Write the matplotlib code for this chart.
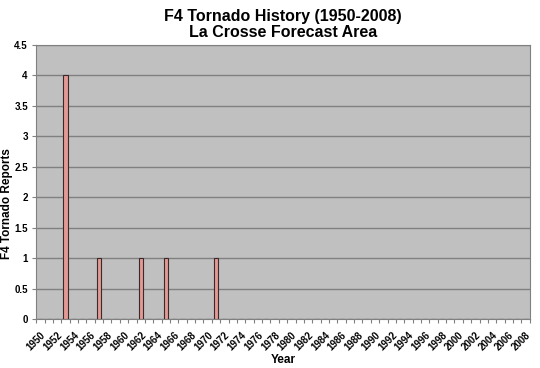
import matplotlib.pyplot as plt
import numpy as np

plt.rcParams['font.family'] = ['Liberation Sans', 'DejaVu Sans']

# F4 tornado reports per year, La Crosse forecast area
years = list(range(1950, 2009))
reports = [0] * len(years)
f4_years = [1953, 1957, 1962, 1965, 1971]
f4_counts = [4, 1, 1, 1, 1]
for y, c in zip(f4_years, f4_counts):
    reports[years.index(y)] = c

fig = plt.figure(figsize=(5.4, 3.68), dpi=100)
ax = fig.add_axes([0.067, 0.133, 0.914, 0.745])
ax.set_facecolor("#C0C0C0")

ax.bar(years, reports, width=0.5, color="#E39A94", edgecolor="#3A2A2A", linewidth=0.8, zorder=3)

ax.set_xlim(years[0] - 0.5, years[-1] + 0.5)
ax.set_ylim(0, 4.5)
ax.set_yticks(np.arange(0, 4.51, 0.5))
ax.set_yticklabels(["0", "0.5", "1", "1.5", "2", "2.5", "3", "3.5", "4", "4.5"])
ax.grid(axis="y", color="#808080", linewidth=1, zorder=1)

label_years = years[::2]
ax.set_xticks(label_years)
ax.set_xticklabels([str(y) for y in label_years], rotation=45, ha="right",
                   rotation_mode="anchor", fontsize=7, fontweight="bold")
ax.tick_params(axis="x", length=0, pad=8)
ax.set_xticks(np.arange(years[0] - 0.5, years[-1] + 1), minor=True)
ax.tick_params(axis="x", which="minor", length=3, color="#808080", width=0.8)
ax.tick_params(axis="y", length=3, color="#808080", labelsize=7, pad=3)
for t in ax.get_yticklabels():
    t.set_fontweight("bold")

for s in ["left", "bottom", "right", "top"]:
    ax.spines[s].set_color("#808080")

ax.set_title("F4 Tornado History (1950-2008)\nLa Crosse Forecast Area",
             fontsize=11.5, fontweight="bold", pad=6, linespacing=1.05)
ax.set_xlabel("Year", fontsize=8.5, fontweight="bold", labelpad=1)
ax.set_ylabel("F4 Tornado Reports", fontsize=8.5, fontweight="bold")
ax.yaxis.set_label_coords(-0.047, 0.42)

fig.savefig("out.png", dpi=100)
